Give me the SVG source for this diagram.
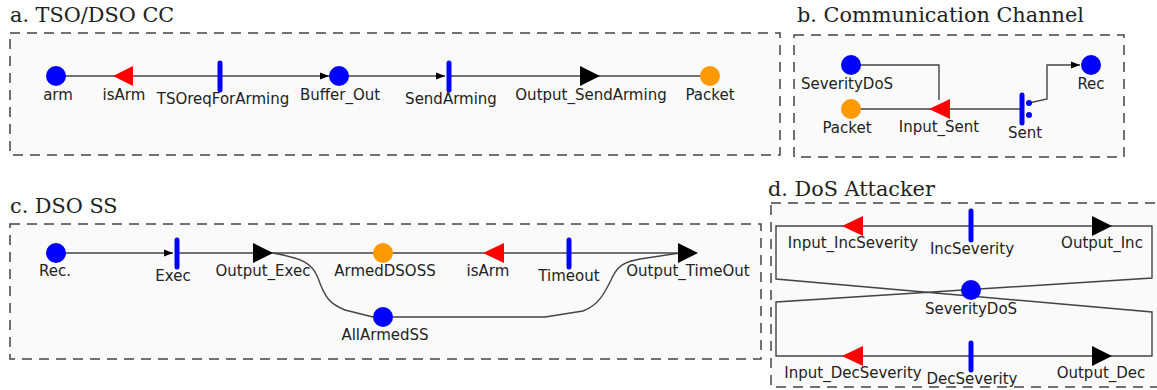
<svg xmlns="http://www.w3.org/2000/svg" width="1157" height="390" viewBox="0 0 1157 390">
<style>
.title{font-family:"DejaVu Serif",serif;font-size:20.8px;fill:#222}
.lbl{font-family:"DejaVu Sans",sans-serif;font-size:15px;fill:#222;text-anchor:middle}
.box{fill:#fafafa;stroke:#444;stroke-width:1.5;stroke-dasharray:10,7}
.edge{fill:none;stroke:#444;stroke-width:1.4}
.place{fill:#0000ff}
.placeO{fill:#ff9900}
.trans{stroke:#0000ff;stroke-width:5;stroke-linecap:round}
.inp{fill:#ff0000}
.out{fill:#000}
</style>
<defs>
<marker id="ah" viewBox="0 0 10 10" refX="10" refY="5" markerWidth="9" markerHeight="9" markerUnits="userSpaceOnUse" orient="auto">
<path d="M0,1 L10,5 L0,9 Z" fill="#000"/>
</marker>
</defs>

<!-- section boxes and titles -->
<text class="title" x="10" y="22">a. TSO/DSO CC</text>
<rect class="box" x="10" y="33" width="770" height="122"/>
<text class="title" x="797" y="22">b. Communication Channel</text>
<rect class="box" x="794" y="35" width="330" height="122"/>
<text class="title" x="10" y="213">c. DSO SS</text>
<rect class="box" x="10" y="224" width="751" height="135"/>
<text class="title" x="768" y="196">d. DoS Attacker</text>
<rect class="box" x="771" y="203" width="400" height="184"/>

<g id="connectors">
<!-- a -->
<path class="edge" d="M56,76 H329" marker-end="url(#ah)"/>
<path class="edge" d="M339,76 H445" marker-end="url(#ah)"/>
<path class="edge" d="M449,76 H710"/>
<!-- b -->
<path class="edge" d="M851,65 H939 V100"/>
<path class="edge" d="M851,109 H1022"/>
<path class="edge" d="M1029,103 L1047,99 V65 H1080" marker-end="url(#ah)"/>
<!-- c -->
<path class="edge" d="M56,253 H173" marker-end="url(#ah)"/>
<path class="edge" d="M177,253 H680"/>
<path class="edge" d="M273,253 C300,258 312,262 318,278 C325,298 330,304 345,310 L373,317"/>
<path class="edge" d="M393,317 L545,317 L583,311 C600,305 606,290 613,276 C618,266 624,262 640,259 L680,253"/>
<!-- d -->
<path class="edge" d="M776,279 V226 H1152 V278 L776,302 V356 H1152 V312 Z"/>
</g>

<!-- a nodes -->
<g id="a_arm"><circle class="place" cx="56" cy="76" r="10"/><text class="lbl" x="58" y="100">arm</text></g>
<g id="a_isArm"><path class="inp" d="M113,76 L133,66 V86 Z"/><text class="lbl" x="124" y="100">isArm</text></g>
<g id="a_TSOreqForArming"><line class="trans" x1="220" y1="63" x2="220" y2="90"/><text class="lbl" x="223" y="104">TSOreqForArming</text></g>
<g id="a_Buffer_Out"><circle class="place" cx="339" cy="76" r="10"/><text class="lbl" x="340" y="100">Buffer_Out</text></g>
<g id="a_SendArming"><line class="trans" x1="449" y1="63" x2="449" y2="90"/><text class="lbl" x="451" y="104">SendArming</text></g>
<g id="a_Output_SendArming"><path class="out" d="M580,66 L600,76 L580,86 Z"/><text class="lbl" x="591" y="100">Output_SendArming</text></g>
<g id="a_Packet"><circle class="placeO" cx="710" cy="76" r="10"/><text class="lbl" x="710" y="100">Packet</text></g>

<!-- b nodes -->
<g id="b_SeverityDoS"><circle class="place" cx="851" cy="65" r="10"/><text class="lbl" x="847" y="89">SeverityDoS</text></g>
<g id="b_Packet"><circle class="placeO" cx="851" cy="109" r="10"/><text class="lbl" x="847" y="133">Packet</text></g>
<g id="b_Input_Sent"><path class="inp" d="M929,109 L950,99 V119 Z"/><text class="lbl" x="939" y="132">Input_Sent</text></g>
<g id="b_Sent"><line class="trans" x1="1022" y1="95" x2="1022" y2="123"/><circle class="place" cx="1029" cy="103" r="3"/><circle class="place" cx="1029" cy="115" r="3"/><text class="lbl" x="1025" y="138">Sent</text></g>
<g id="b_Rec"><circle class="place" cx="1091" cy="65" r="10"/><text class="lbl" x="1091" y="89">Rec</text></g>

<!-- c nodes -->
<g id="c_Rec"><circle class="place" cx="56" cy="253" r="10"/><text class="lbl" x="55" y="276">Rec.</text></g>
<g id="c_Exec"><line class="trans" x1="177" y1="240" x2="177" y2="267"/><text class="lbl" x="173" y="281">Exec</text></g>
<g id="c_Output_Exec"><path class="out" d="M253,243 L273,253 L253,263 Z"/><text class="lbl" x="263" y="276">Output_Exec</text></g>
<g id="c_ArmedDSOSS"><circle class="placeO" cx="383" cy="253" r="10"/><text class="lbl" x="385" y="276">ArmedDSOSS</text></g>
<g id="c_isArm"><path class="inp" d="M483,253 L504,243 V263 Z"/><text class="lbl" x="488" y="276">isArm</text></g>
<g id="c_Timeout"><line class="trans" x1="569" y1="240" x2="569" y2="267"/><text class="lbl" x="569" y="281">Timeout</text></g>
<g id="c_Output_TimeOut"><path class="out" d="M678,243 L698,253 L678,263 Z"/><text class="lbl" x="688" y="276">Output_TimeOut</text></g>
<g id="c_AllArmedSS"><circle class="place" cx="383" cy="317" r="10"/><text class="lbl" x="385" y="340">AllArmedSS</text></g>

<!-- d nodes -->
<g id="d_Input_IncSeverity"><path class="inp" d="M842,226 L863,216 V236 Z"/><text class="lbl" x="853" y="248">Input_IncSeverity</text></g>
<g id="d_IncSeverity"><line class="trans" x1="971" y1="211" x2="971" y2="240"/><text class="lbl" x="972" y="254">IncSeverity</text></g>
<g id="d_Output_Inc"><path class="out" d="M1092,216 L1112,226 L1092,236 Z"/><text class="lbl" x="1102" y="248">Output_Inc</text></g>
<g id="d_SeverityDoS"><circle class="place" cx="971" cy="290" r="10"/><text class="lbl" x="971" y="314">SeverityDoS</text></g>
<g id="d_Input_DecSeverity"><path class="inp" d="M842,356 L863,346 V366 Z"/><text class="lbl" x="853" y="378">Input_DecSeverity</text></g>
<g id="d_DecSeverity"><line class="trans" x1="971" y1="343" x2="971" y2="370"/><text class="lbl" x="972" y="384">DecSeverity</text></g>
<g id="d_Output_Dec"><path class="out" d="M1092,346 L1112,356 L1092,366 Z"/><text class="lbl" x="1101" y="378">Output_Dec</text></g>
</svg>
